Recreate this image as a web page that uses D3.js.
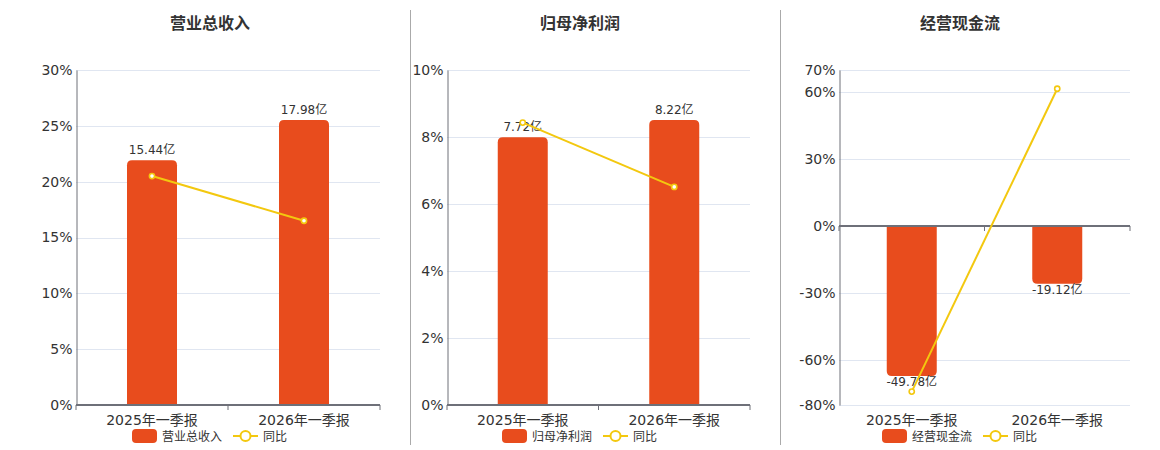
<!DOCTYPE html>
<html>
<head>
<meta charset="utf-8">
<script src="https://cdn.jsdelivr.net/npm/d3@7/dist/d3.min.js"></script>
<style>
  html, body { margin: 0; padding: 0; background: #fff; }
  svg { display: block; font-family: "DejaVu Sans", "Noto Sans CJK SC", sans-serif; }
</style>
</head>
<body>
<svg id="chart" width="1160" height="450"></svg>
<script>
// categories shared by the three panels
const categories = ['2025年一季报', '2026年一季报'];
const titles = ['营业总收入', '归母净利润', '经营现金流'];
const legendName = '同比';

// bar values (亿) and year-on-year (%)
const revenueValues = [15.44, 17.98];
const revenueYoY = [20.5, 16.5];
const profitValues = [7.72, 8.22];
const profitYoY = [8.43, 6.51];
const cashflowValues = [-49.78, -19.12];
const cashflowYoY = [-74.0, 61.6];

// y tick labels (%)
const revenueTicks = [0, 5, 10, 15, 20, 25, 30];
const profitTicks = [0, 2, 4, 6, 8, 10];
const cashflowTicks = [-80, -60, -30, 0, 30, 60, 70];

const BAR_COLOR = '#e84c1d';
const LINE_COLOR = '#f3c80f';
const AXIS_COLOR = '#6e7079';
const GRID_COLOR = '#e0e6f1';
const TEXT_COLOR = '#333';

const panels = [
     { title: titles[0], bars: revenueValues, yoy: revenueYoY, ticks: revenueTicks, left: 76, right: 380, center: 210, fill: 0.851 },
     { title: titles[1], bars: profitValues, yoy: profitYoY, ticks: profitTicks, left: 447, right: 750, center: 580, fill: 0.851 },
     { title: titles[2], bars: cashflowValues, yoy: cashflowYoY, ticks: cashflowTicks, left: 839, right: 1130, center: 960, fill: 0.838 }
];
const TOP = 70, BOTTOM = 405;

const svg = d3.select('#chart');

// dividers between panels
[410, 780].forEach(x => {
     svg.append('line')
          .attr('x1', x + 0.5).attr('x2', x + 0.5)
          .attr('y1', 10).attr('y2', 445)
          .attr('stroke', '#aaa').attr('stroke-width', 1);
});

function barPath(x, w, y0, y1, r) {
     // rounded corners on the far end of the bar (away from zero)
     const h = Math.abs(y1 - y0);
     r = Math.min(r, h, w / 2);
     if (y1 < y0) {
          return `M${x},${y0}V${y1 + r}Q${x},${y1} ${x + r},${y1}H${x + w - r}Q${x + w},${y1} ${x + w},${y1 + r}V${y0}Z`;
     }
     return `M${x},${y0}V${y1 - r}Q${x},${y1} ${x + r},${y1}H${x + w - r}Q${x + w},${y1} ${x + w},${y1 - r}V${y0}Z`;
}

panels.forEach(p => {
     const g = svg.append('g');
     const yMin = d3.min(p.ticks), yMax = d3.max(p.ticks);

     const x = d3.scaleBand().domain(categories).range([p.left, p.right]).padding(0);
     const y = d3.scaleLinear().domain([yMin, yMax]).range([BOTTOM, TOP]);

     // hidden axis for bars, zero aligned with the % axis
     const maxAbs = d3.max(p.bars, v => Math.abs(v));
     const side = d3.min(p.bars) < 0 ? -yMin : yMax;
     const k = side * p.fill / maxAbs;
     const yBar = d3.scaleLinear().domain([yMin / k, yMax / k]).range([BOTTOM, TOP]);

     // title
     g.append('text')
          .attr('x', p.center).attr('y', 29)
          .attr('text-anchor', 'middle')
          .attr('font-size', 16).attr('font-weight', 'bold')
          .attr('fill', TEXT_COLOR)
          .text(p.title);

     // grid lines
     g.append('g').selectAll('line')
          .data(p.ticks.filter(t => t !== yMin && t !== 0))
          .join('line')
          .attr('x1', p.left).attr('x2', p.right)
          .attr('y1', d => Math.round(y(d)) + 0.5).attr('y2', d => Math.round(y(d)) + 0.5)
          .attr('stroke', GRID_COLOR).attr('stroke-width', 1);
     if (yMin !== 0) {
          g.append('line')
               .attr('x1', p.left).attr('x2', p.right)
               .attr('y1', Math.round(y(yMin)) + 0.5).attr('y2', Math.round(y(yMin)) + 0.5)
               .attr('stroke', GRID_COLOR);
     }

     // y axis
     const yAxis = d3.axisLeft(y).tickValues(p.ticks).tickSize(0).tickPadding(4).tickFormat(d => d + '%');
     const ya = g.append('g').attr('transform', `translate(${p.left + 0.5},0)`).call(yAxis);
     ya.select('.domain').attr('stroke', AXIS_COLOR).attr('stroke-width', 1);
     ya.selectAll('text')
          .attr('font-size', 14).attr('fill', TEXT_COLOR)
          .attr('font-family', '"DejaVu Sans", sans-serif');

     // bars
     const bw = 50;
     g.append('g').selectAll('path')
          .data(p.bars)
          .join('path')
          .attr('d', (d, i) => barPath(x(categories[i]) + x.bandwidth() / 2 - bw / 2, bw, yBar(0), yBar(d), 5))
          .attr('fill', BAR_COLOR);

     // bar labels
     g.append('g').selectAll('text')
          .data(p.bars)
          .join('text')
          .attr('x', (d, i) => x(categories[i]) + x.bandwidth() / 2)
          .attr('y', d => d >= 0 ? yBar(d) - 6 : yBar(d) + 10)
          .attr('text-anchor', 'middle')
          .attr('font-size', 12).attr('fill', TEXT_COLOR)
          .text(d => d.toFixed(2) + '亿');

     // x axis at zero
     const zeroY = Math.round(y(0));
     const xa = g.append('g');
     xa.append('line')
          .attr('x1', p.left).attr('x2', p.right)
          .attr('y1', zeroY).attr('y2', zeroY)
          .attr('stroke', AXIS_COLOR).attr('stroke-width', 2);
     xa.selectAll('line.tick')
          .data([p.left, p.left + x.bandwidth(), p.right])
          .join('line')
          .attr('class', 'tick')
          .attr('x1', d => d).attr('x2', d => d)
          .attr('y1', zeroY).attr('y2', zeroY + 5)
          .attr('stroke', AXIS_COLOR).attr('stroke-width', 1);

     // x labels at bottom
     g.append('g').selectAll('text')
          .data(categories)
          .join('text')
          .attr('x', d => x(d) + x.bandwidth() / 2)
          .attr('y', 425)
          .attr('text-anchor', 'middle')
          .attr('font-size', 14).attr('fill', TEXT_COLOR)
          .text(d => d);

     // yoy line
     const line = d3.line()
          .x((d, i) => x(categories[i]) + x.bandwidth() / 2)
          .y(d => y(d));
     g.append('path')
          .datum(p.yoy)
          .attr('d', line)
          .attr('fill', 'none')
          .attr('stroke', LINE_COLOR).attr('stroke-width', 2);
     g.append('g').selectAll('circle')
          .data(p.yoy)
          .join('circle')
          .attr('cx', (d, i) => x(categories[i]) + x.bandwidth() / 2)
          .attr('cy', d => y(d))
          .attr('r', 2.6)
          .attr('fill', '#fff')
          .attr('stroke', LINE_COLOR).attr('stroke-width', 1.6);

     // legend
     const lx = p.center - 78;
     const lg = g.append('g');
     lg.append('rect')
          .attr('x', lx).attr('y', 429).attr('width', 25).attr('height', 14).attr('rx', 4)
          .attr('fill', BAR_COLOR);
     lg.append('text')
          .attr('x', lx + 30).attr('y', 440.5)
          .attr('font-size', 12).attr('fill', TEXT_COLOR)
          .text(p.title);
     lg.append('line')
          .attr('x1', lx + 101).attr('x2', lx + 126)
          .attr('y1', 436).attr('y2', 436)
          .attr('stroke', LINE_COLOR).attr('stroke-width', 2);
     lg.append('circle')
          .attr('cx', lx + 113.5).attr('cy', 436).attr('r', 5)
          .attr('fill', '#fff')
          .attr('stroke', LINE_COLOR).attr('stroke-width', 2);
     lg.append('text')
          .attr('x', lx + 131).attr('y', 440.5)
          .attr('font-size', 12).attr('fill', TEXT_COLOR)
          .text(legendName);
});
</script>
</body>
</html>
